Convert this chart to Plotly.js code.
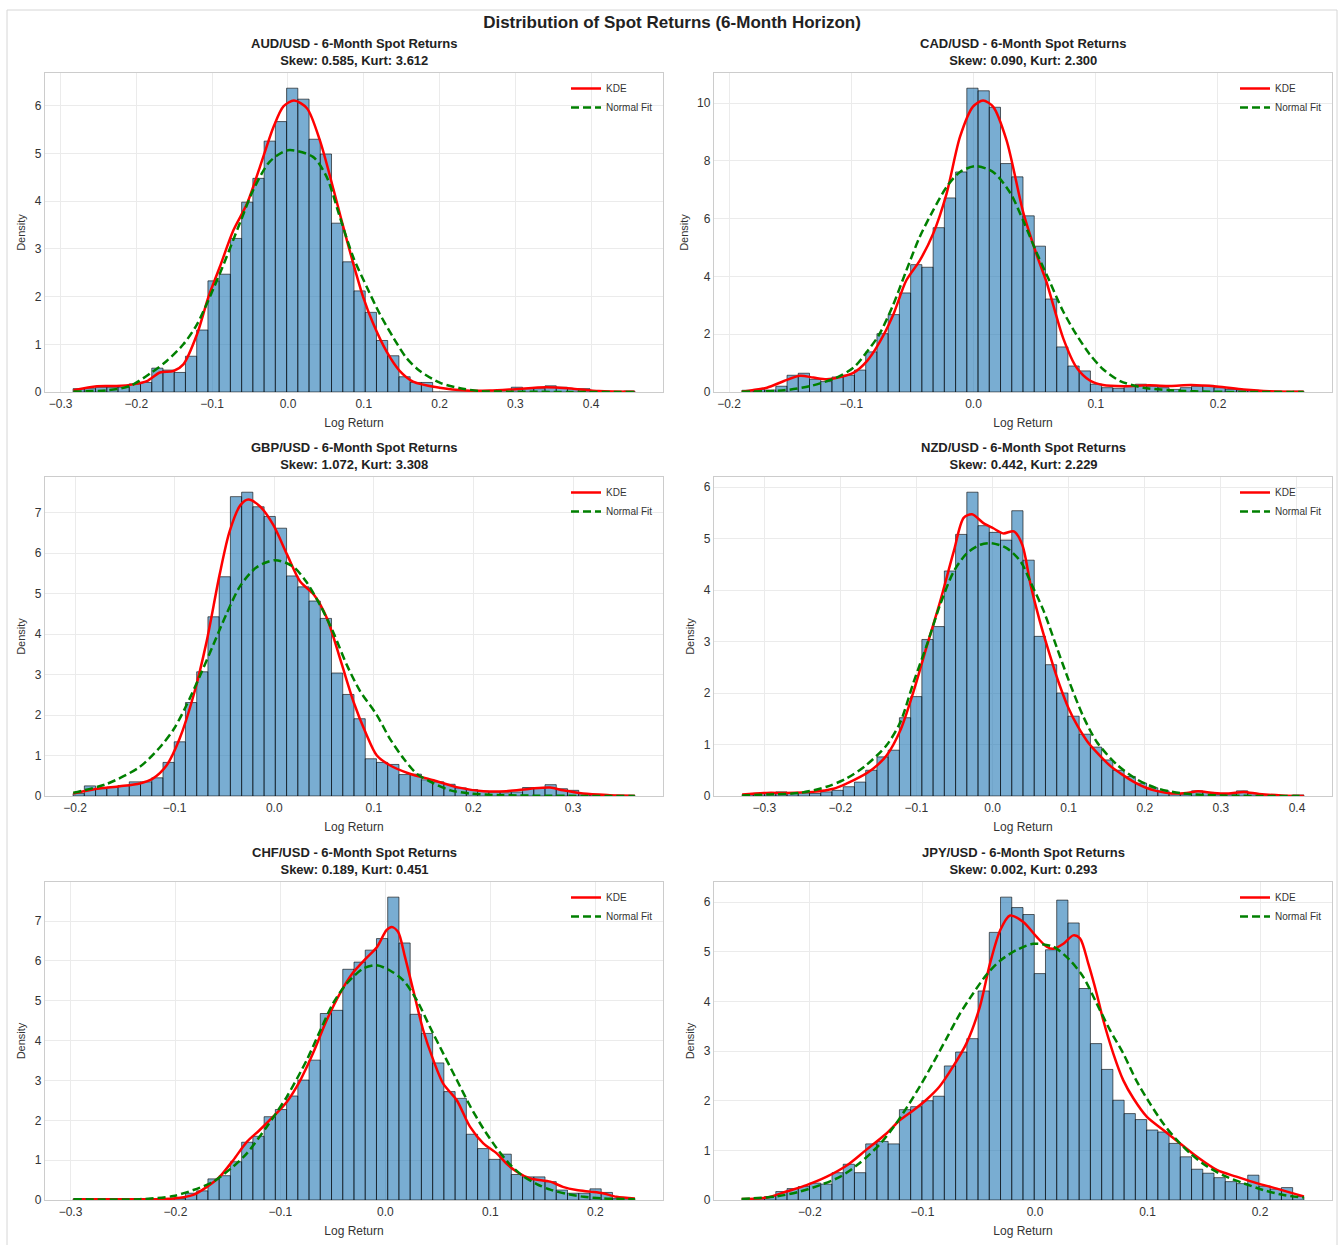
<!DOCTYPE html>
<html><head><meta charset="utf-8">
<script src="https://cdn.plot.ly/plotly-3.0.1.min.js"></script>
<style>html,body{margin:0;padding:0;background:#fff}#chart{width:1344px;height:1245px}</style>
</head><body><div id="chart"></div>
<script>
// ---------- DATA ----------
const pairs = ['AUD/USD', 'CAD/USD', 'GBP/USD', 'NZD/USD', 'CHF/USD', 'JPY/USD'];
const skews = [0.585, 0.090, 1.072, 0.442, 0.189, 0.002];
const kurts = [3.612, 2.300, 3.308, 2.229, 0.451, 0.293];
const dataMin = [-0.2835, -0.1893, -0.2020, -0.3291, -0.2975, -0.2603];
const dataMax = [0.4577, 0.2703, 0.3621, 0.4091, 0.2376, 0.2390];

// histogram densities, 50 equal bins between dataMin and dataMax
const audHist = [0.07,0.07,0.1,0.1,0.1,0.17,0.2,0.5,0.46,0.41,0.75,1.30,2.33,2.47,3.22,3.98,4.48,5.26,5.67,6.37,6.14,5.30,4.99,3.54,2.73,2.12,1.67,1.08,0.76,0.32,0.2,0.2,0,0,0,0,0,0,0,0.1,0.07,0.07,0.13,0.1,0.07,0.07,0,0,0,0.02];
const cadHist = [0.06,0.09,0.07,0.2,0.58,0.65,0.44,0.36,0.52,0.58,0.76,1.39,2.02,2.68,3.43,4.41,4.32,5.69,6.72,7.62,10.52,10.43,9.86,7.91,7.45,6.10,5.05,3.22,1.56,0.90,0.73,0.27,0.15,0.13,0.2,0.27,0.2,0.15,0.09,0.15,0.2,0.23,0.15,0.09,0.07,0.06,0.03,0.03,0,0.03];
const gbpHist = [0.06,0.25,0.18,0.22,0.26,0.35,0.35,0.45,0.83,1.34,2.31,3.07,4.43,5.42,7.40,7.51,7.15,6.91,6.62,5.44,5.17,4.82,4.39,3.04,2.51,1.91,0.92,0.83,0.78,0.53,0.54,0.40,0.35,0.29,0.20,0.16,0.12,0.10,0.08,0.10,0.21,0.21,0.28,0.18,0.14,0.06,0.03,0,0.02,0.02];
const nzdHist = [0.03,0.05,0.06,0.08,0.06,0.06,0.05,0.08,0.11,0.18,0.27,0.50,0.76,0.89,1.52,1.93,3.04,3.29,4.37,5.08,5.90,5.25,5.12,4.97,5.54,4.58,3.1,2.55,2.0,1.55,1.2,0.95,0.7,0.5,0.38,0.25,0.16,0.1,0.05,0.04,0.1,0.07,0.03,0.04,0.1,0.05,0,0,0,0.02];
const chfHist = [0.03,0,0,0,0,0,0,0,0,0.04,0.17,0.23,0.53,0.61,0.96,1.45,1.60,2.09,2.27,2.61,3.01,3.51,4.68,4.76,5.79,5.97,6.27,6.56,7.60,6.45,4.66,4.18,3.44,2.72,2.55,1.65,1.29,1.02,1.15,0.64,0.58,0.58,0.46,0.25,0.17,0.17,0.28,0.19,0.04,0.04];
const jpyHist = [0.03,0.03,0.07,0.17,0.23,0.27,0.34,0.32,0.55,0.72,0.55,1.13,1.18,1.13,1.82,1.88,2.0,2.09,2.70,2.98,3.25,4.21,5.39,6.10,5.89,5.75,4.56,5.04,6.04,5.58,4.26,3.15,2.63,2.01,1.74,1.62,1.41,1.37,1.14,0.87,0.62,0.54,0.45,0.37,0.33,0.50,0.28,0.22,0.25,0.07];

// KDE curves
const audKdeX = [-0.283,-0.252,-0.226,-0.204,-0.186,-0.169,-0.151,-0.138,-0.120,-0.105,-0.090,-0.072,-0.054,-0.037,-0.019,-0.006,0.008,0.025,0.042,0.060,0.069,0.086,0.099,0.112,0.130,0.147,0.165,0.200,0.235,0.266,0.300,0.340,0.376,0.410,0.457];
const audKdeY = [0.035,0.12,0.126,0.16,0.23,0.41,0.44,0.58,1.21,1.99,2.62,3.39,3.95,4.72,5.56,5.99,6.11,5.95,5.28,4.25,3.7,2.7,2.0,1.45,0.85,0.45,0.22,0.09,0.03,0.03,0.06,0.1,0.07,0.02,0.005];
const cadKdeX = [-0.1896,-0.169,-0.155,-0.142,-0.131,-0.120,-0.109,-0.098,-0.087,-0.077,-0.066,-0.055,-0.044,-0.033,-0.022,-0.011,-0.0004,0.0078,0.016,0.027,0.0408,0.0517,0.0598,0.0653,0.0735,0.0843,0.0952,0.106,0.123,0.144,0.161,0.178,0.199,0.221,0.242,0.270];
const cadKdeY = [0.01,0.15,0.38,0.56,0.50,0.44,0.52,0.67,1.08,1.71,2.64,3.86,4.55,5.48,6.87,8.84,9.88,10.09,9.88,8.72,6.2,4.75,3.8,3.0,1.85,0.85,0.4,0.24,0.2,0.23,0.21,0.24,0.19,0.09,0.03,0.01];
const gbpKdeX = [-0.2018,-0.178,-0.155,-0.135,-0.122,-0.108,-0.095,-0.081,-0.068,-0.055,-0.045,-0.034,-0.026,-0.014,-0.001,0.013,0.026,0.040,0.053,0.067,0.080,0.092,0.103,0.116,0.136,0.160,0.183,0.210,0.233,0.257,0.277,0.290,0.310,0.337,0.362];
const gbpKdeY = [0.06,0.18,0.24,0.31,0.43,0.76,1.42,2.49,3.81,5.46,6.53,7.19,7.33,7.15,6.70,5.96,5.30,4.97,4.39,3.32,2.3,1.55,1.0,0.76,0.55,0.39,0.22,0.12,0.12,0.18,0.21,0.14,0.06,0.02,0.0];
const nzdKdeX = [-0.329,-0.297,-0.271,-0.236,-0.209,-0.192,-0.174,-0.157,-0.139,-0.121,-0.104,-0.086,-0.069,-0.051,-0.038,-0.027,-0.012,0.001,0.014,0.028,0.039,0.050,0.062,0.075,0.087,0.100,0.112,0.125,0.140,0.155,0.170,0.185,0.200,0.215,0.235,0.255,0.270,0.290,0.310,0.330,0.350,0.380,0.409];
const nzdKdeY = [0.03,0.06,0.06,0.08,0.14,0.24,0.37,0.53,0.79,1.28,2.02,2.93,3.77,4.75,5.40,5.47,5.30,5.20,5.10,5.14,4.88,4.10,3.4,2.75,2.2,1.7,1.35,1.05,0.8,0.58,0.42,0.28,0.17,0.1,0.05,0.06,0.09,0.06,0.05,0.08,0.04,0.01,0.0];
const chfKdeX = [-0.297,-0.234,-0.202,-0.183,-0.170,-0.158,-0.145,-0.132,-0.120,-0.107,-0.094,-0.081,-0.069,-0.056,-0.043,-0.031,-0.019,-0.008,0.001,0.006,0.012,0.0186,0.0265,0.036,0.0456,0.055,0.0678,0.0805,0.0932,0.106,0.115,0.125,0.138,0.157,0.169,0.182,0.195,0.207,0.220,0.2376];
const chfKdeY = [0.02,0.02,0.04,0.13,0.33,0.58,1.0,1.46,1.75,2.09,2.46,3.01,3.68,4.51,5.2,5.7,6.05,6.35,6.77,6.85,6.73,6.10,5.26,4.26,3.51,2.92,2.51,1.84,1.42,1.17,0.92,0.71,0.54,0.46,0.33,0.25,0.21,0.17,0.08,0.04];
const jpyKdeX = [-0.2607,-0.238,-0.221,-0.203,-0.185,-0.167,-0.150,-0.132,-0.120,-0.108,-0.097,-0.085,-0.073,-0.061,-0.049,-0.040,-0.031,-0.0222,-0.0104,0.0015,0.0104,0.0163,0.0252,0.034,0.040,0.0474,0.0548,0.0607,0.0696,0.0785,0.0874,0.0993,0.114,0.129,0.144,0.162,0.179,0.197,0.215,0.239];
const jpyKdeY = [0.02,0.05,0.17,0.30,0.47,0.70,1.01,1.34,1.61,1.81,2.01,2.28,2.68,3.15,3.89,4.76,5.43,5.73,5.60,5.30,5.10,5.06,5.16,5.33,5.27,4.76,4.16,3.62,2.95,2.41,2.05,1.68,1.41,1.14,0.87,0.60,0.47,0.34,0.23,0.07];

// Normal fit curves
const audNormX = [-0.283,-0.239,-0.208,-0.180,-0.160,-0.138,-0.120,-0.090,-0.063,-0.046,-0.024,0.0,0.033,0.051,0.069,0.086,0.104,0.121,0.139,0.156,0.174,0.201,0.227,0.253,0.288,0.457];
const audNormY = [0.01,0.035,0.13,0.41,0.65,1.0,1.42,2.48,3.56,4.23,4.83,5.07,4.93,4.51,3.64,2.83,2.2,1.64,1.14,0.72,0.44,0.19,0.08,0.02,0.007,0];
const cadNormX = [-0.1896,-0.155,-0.133,-0.112,-0.098,-0.087,-0.077,-0.066,-0.055,-0.044,-0.033,-0.022,-0.011,0.002,0.016,0.030,0.041,0.052,0.062,0.073,0.084,0.095,0.106,0.120,0.139,0.161,0.193,0.270];
const cadNormY = [0.01,0.06,0.21,0.50,0.85,1.4,2.0,2.99,4.2,5.37,6.29,7.1,7.62,7.82,7.62,6.9,5.9,4.79,3.86,2.82,2.0,1.31,0.79,0.38,0.15,0.06,0.01,0];
const gbpNormX = [-0.2018,-0.168,-0.135,-0.115,-0.101,-0.088,-0.075,-0.061,-0.048,-0.034,-0.018,0.001,0.019,0.032,0.046,0.059,0.073,0.086,0.103,0.116,0.130,0.143,0.160,0.177,0.197,0.227,0.362];
const gbpNormY = [0.08,0.3,0.72,1.2,1.65,2.25,2.95,3.75,4.5,5.2,5.65,5.83,5.67,5.30,4.72,4.06,3.23,2.6,2.0,1.42,0.92,0.55,0.31,0.14,0.06,0.02,0];
const nzdNormX = [-0.329,-0.297,-0.253,-0.218,-0.192,-0.166,-0.139,-0.121,-0.104,-0.086,-0.069,-0.051,-0.034,-0.016,-0.001,0.019,0.037,0.050,0.067,0.084,0.100,0.119,0.137,0.164,0.190,0.216,0.250,0.300,0.409];
const nzdNormY = [0.01,0.03,0.06,0.18,0.34,0.60,0.99,1.44,2.2,2.95,3.71,4.36,4.71,4.88,4.91,4.81,4.55,4.15,3.6,2.9,2.25,1.55,1.05,0.6,0.32,0.15,0.05,0.01,0];
const chfNormX = [-0.297,-0.234,-0.202,-0.183,-0.164,-0.145,-0.132,-0.113,-0.094,-0.075,-0.062,-0.050,-0.037,-0.021,-0.0084,0.0043,0.017,0.030,0.0424,0.055,0.068,0.081,0.093,0.106,0.119,0.131,0.144,0.157,0.173,0.189,0.207,0.2376];
const chfNormY = [0.02,0.02,0.1,0.25,0.46,0.84,1.17,1.84,2.59,3.51,4.26,4.93,5.43,5.81,5.89,5.76,5.51,5.01,4.34,3.68,3.01,2.34,1.8,1.3,0.88,0.6,0.4,0.26,0.15,0.08,0.04,0.02];
const jpyNormX = [-0.2607,-0.230,-0.209,-0.191,-0.173,-0.156,-0.138,-0.126,-0.114,-0.102,-0.090,-0.078,-0.067,-0.055,-0.043,-0.031,-0.016,-0.0015,0.0163,0.031,0.043,0.0548,0.0667,0.0785,0.090,0.102,0.114,0.126,0.138,0.150,0.167,0.185,0.203,0.221,0.239];
const jpyNormY = [0.02,0.07,0.17,0.30,0.47,0.74,1.12,1.46,1.86,2.3,2.78,3.28,3.74,4.16,4.54,4.82,5.04,5.16,5.10,4.83,4.49,3.96,3.42,2.95,2.41,1.95,1.54,1.21,0.94,0.72,0.50,0.34,0.20,0.10,0.05];

// ---------- CHART ----------
const hists = [audHist, cadHist, gbpHist, nzdHist, chfHist, jpyHist];
const kdeXs = [audKdeX, cadKdeX, gbpKdeX, nzdKdeX, chfKdeX, jpyKdeX];
const kdeYs = [audKdeY, cadKdeY, gbpKdeY, nzdKdeY, chfKdeY, jpyKdeY];
const normXs = [audNormX, cadNormX, gbpNormX, nzdNormX, chfNormX, jpyNormX];
const normYs = [audNormY, cadNormY, gbpNormY, nzdNormY, chfNormY, jpyNormY];
const yDticks = [1, 2, 1, 1, 1, 1];

const W = 1344, H = 1245;
const px = v => v / W, py = v => 1 - v / H;
const cols = [[45, 663], [714, 1332]];
const rows = [[73, 392], [477, 796], [882, 1200]];
const FONT = 'Liberation Sans, Arial, Helvetica, sans-serif';
const TXT = '#333333';

const data = [];
const layout = {
  width: W, height: H,
  margin: {l: 0, r: 0, t: 0, b: 0},
  paper_bgcolor: '#ffffff', plot_bgcolor: '#ffffff',
  font: {family: FONT, color: TXT, size: 12},
  showlegend: true,
  title: {text: '<b>Distribution of Spot Returns (6-Month Horizon)</b>', x: 0.5, xanchor: 'center',
          y: py(22), yanchor: 'middle', yref: 'container', font: {size: 17, color: '#222', family: FONT}},
  annotations: [],
  shapes: [{type: 'rect', xref: 'paper', yref: 'paper', x0: px(7), x1: px(1337), y0: py(1252), y1: py(10),
            line: {color: '#d6d6d6', width: 1}, layer: 'below'}]
};

for (let i = 0; i < 6; i++) {
  const c = i % 2, r = Math.floor(i / 2);
  const n = i + 1, sfx = n === 1 ? '' : String(n);
  const xa = 'x' + sfx, ya = 'y' + sfx;
  const hist = hists[i];
  const lo = dataMin[i], hi = dataMax[i], span = hi - lo;
  const w = span / hist.length;
  const centers = hist.map((_, k) => lo + (k + 0.5) * w);
  const legName = n === 1 ? 'legend' : 'legend' + n;

  data.push({type: 'bar', x: centers, y: hist, width: w, xaxis: xa, yaxis: ya,
    marker: {color: 'rgba(31,119,180,0.6)', line: {color: 'rgba(0,0,0,0.6)', width: 1}},
    showlegend: false, hoverinfo: 'skip'});
  data.push({type: 'scatter', mode: 'lines', x: kdeXs[i], y: kdeYs[i], xaxis: xa, yaxis: ya,
    name: 'KDE', legend: legName, line: {color: '#ff0000', width: 2.5, shape: 'spline', smoothing: 0.8}});
  data.push({type: 'scatter', mode: 'lines', x: normXs[i], y: normYs[i], xaxis: xa, yaxis: ya,
    name: 'Normal Fit', legend: legName, line: {color: '#008000', width: 2.5, dash: '8px,4px', shape: 'spline', smoothing: 0.8}});

  const xd = [px(cols[c][0]), px(cols[c][1])];
  const yd = [py(rows[r][1]), py(rows[r][0])];
  layout['xaxis' + sfx] = {
    domain: xd, anchor: ya, range: [lo - 0.05 * span, hi + 0.05 * span],
    dtick: 0.1, tick0: 0, tickformat: '.1f', ticks: '', showgrid: true, gridcolor: '#ebebeb', gridwidth: 1,
    zeroline: false, showline: true, mirror: true, linecolor: '#cccccc', linewidth: 1.25,
    tickfont: {size: 12, color: TXT}, automargin: false,
    title: {text: 'Log Return', font: {size: 12, color: TXT}, standoff: 9}
  };
  layout['yaxis' + sfx] = {
    domain: yd, anchor: xa, range: [0, Math.max(...hist) * 1.05],
    dtick: yDticks[i], tick0: 0, ticks: '', showgrid: true, gridcolor: '#ebebeb', gridwidth: 1,
    zeroline: false, showline: true, mirror: true, linecolor: '#cccccc', linewidth: 1.25,
    tickfont: {size: 12, color: TXT}, automargin: false,
    title: {text: 'Density', font: {size: 11, color: TXT}, standoff: 6}
  };
  layout[legName] = {
    x: px(cols[c][1] - 5), xanchor: 'right', y: py(rows[r][0] + 1), yanchor: 'top',
    xref: 'paper', yref: 'paper', bgcolor: 'rgba(255,255,255,0)', borderwidth: 0,
    font: {size: 10, color: TXT, family: FONT}, tracegroupgap: 0, itemwidth: 30
  };
  layout.annotations.push({
    xref: 'paper', yref: 'paper', x: (xd[0] + xd[1]) / 2, xanchor: 'center',
    y: py(rows[r][0] - 3), yanchor: 'bottom', showarrow: false, align: 'center',
    text: '<b>' + pairs[i] + ' - 6-Month Spot Returns</b><br><b>Skew: ' + skews[i].toFixed(3) + ', Kurt: ' + kurts[i].toFixed(3) + '</b>',
    font: {size: 13, color: '#222', family: FONT}
  });
}

Plotly.newPlot('chart', data, layout, {displayModeBar: false, staticPlot: true});
</script>
</body></html>
